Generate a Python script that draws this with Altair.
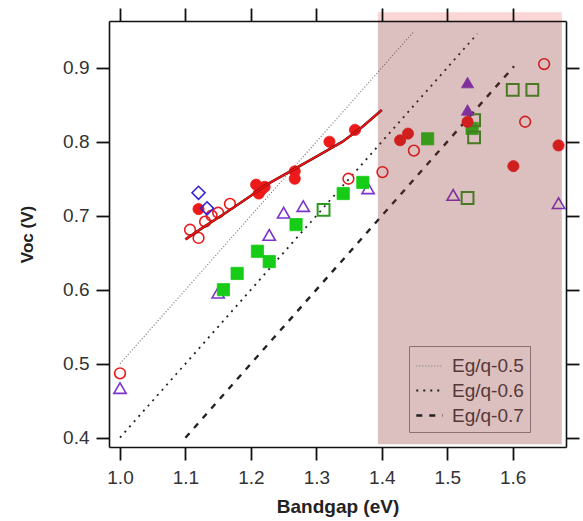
import altair as alt
import pandas as pd

FONT = "Liberation Sans"

# ---------------- data ----------------
red_open_x = [1.000, 1.107, 1.120, 1.130, 1.140, 1.150, 1.168, 1.349, 1.401, 1.449, 1.619, 1.648]
red_open_y = [0.487, 0.681, 0.670, 0.692, 0.700, 0.704, 0.716, 0.750, 0.759, 0.788, 0.827, 0.905]

red_fill_x = [1.120, 1.208, 1.216, 1.221, 1.212, 1.267, 1.267, 1.320, 1.359, 1.428, 1.440, 1.531, 1.601, 1.670]
red_fill_y = [0.709, 0.742, 0.735, 0.739, 0.730, 0.760, 0.750, 0.800, 0.816, 0.802, 0.811, 0.827, 0.767, 0.795]

blue_dia_x = [1.120, 1.133]
blue_dia_y = [0.731, 0.710]

purple_open_x = [1.000, 1.150, 1.228, 1.250, 1.280, 1.379, 1.509, 1.670]
purple_open_y = [0.467, 0.596, 0.674, 0.704, 0.713, 0.737, 0.728, 0.717]

purple_fill_x = [1.531, 1.531]
purple_fill_y = [0.880, 0.843]

green_fill_x = [1.158, 1.179, 1.210, 1.228, 1.269, 1.341, 1.371, 1.470, 1.538]
green_fill_y = [0.600, 0.622, 0.652, 0.638, 0.688, 0.730, 0.745, 0.804, 0.818]

green_open_x = [1.311, 1.600, 1.630, 1.541, 1.541, 1.531]
green_open_y = [0.708, 0.870, 0.870, 0.806, 0.829, 0.724]

fit_x = [1.10, 1.13, 1.16, 1.20, 1.22, 1.26, 1.30, 1.34, 1.37, 1.40]
fit_y = [0.668, 0.686, 0.703, 0.727, 0.740, 0.760, 0.780, 0.800, 0.820, 0.843]

ref_names = ["Eg/q-0.5", "Eg/q-0.6", "Eg/q-0.7"]
ref_x0 = [1.000, 1.000, 1.100]
ref_x1 = [1.449, 1.546, 1.602]
ref_y0 = [0.500, 0.400, 0.400]
ref_y1 = [0.949, 0.946, 0.902]

shade_x = [1.394, 1.675]
shade_y = [0.391, 0.9632]
strip_y = [0.9632, 0.975]

x_ticks = [1.0, 1.1, 1.2, 1.3, 1.4, 1.5, 1.6]
y_ticks = [0.4, 0.5, 0.6, 0.7, 0.8, 0.9]

# ---------------- scales ----------------
xs = alt.Scale(domain=[0.9832, 1.6814], nice=False, zero=False)
ys = alt.Scale(domain=[0.3874, 0.9632], nice=False, zero=False)


def df(xv, yv):
    return pd.DataFrame({"x": xv, "y": yv})


def enc(ch):
    return ch.encode(x=alt.X("x:Q", scale=xs, axis=None),
                     y=alt.Y("y:Q", scale=ys, axis=None))


def scatter(xv, yv, shape, color, filled, size, sw=1.6):
    if filled:
        m = alt.Chart(df(xv, yv)).mark_point(shape=shape, size=size, filled=True,
                                              fill=color, stroke=color, strokeWidth=0.8,
                                              opacity=1)
    else:
        m = alt.Chart(df(xv, yv)).mark_point(shape=shape, size=size, filled=False,
                                              stroke=color, strokeWidth=sw, opacity=1)
    return enc(m)


# reference lines
rows = []
for n, a, b, c, d in zip(ref_names, ref_x0, ref_x1, ref_y0, ref_y1):
    rows.append({"series": n, "x": a, "y": c, "o": 0})
    rows.append({"series": n, "x": b, "y": d, "o": 1})
ref_df = pd.DataFrame(rows)

leg = alt.Legend(title="", orient="none", legendX=300, legendY=325,
                 symbolType="stroke", symbolSize=700,
                 labelFont=FONT, labelFontSize=19, labelColor="#553838",
                 strokeColor="#8f7070", padding=6, rowPadding=0, labelOffset=8)

ref_lines = alt.Chart(ref_df).mark_line().encode(
    x=alt.X("x:Q", scale=xs, axis=None),
    y=alt.Y("y:Q", scale=ys, axis=None),
    order="o:Q",
    strokeDash=alt.StrokeDash("series:N",
                              scale=alt.Scale(domain=ref_names, range=[[1, 2], [2, 5], [6, 7]]),
                              legend=leg),
    color=alt.Color("series:N",
                    scale=alt.Scale(domain=ref_names, range=["#777777", "#222222", "#222222"]),
                    legend=leg),
    strokeWidth=alt.StrokeWidth("series:N",
                                scale=alt.Scale(domain=ref_names, range=[1.2, 2.4, 2.2]),
                                legend=leg),
)

strip = alt.Chart(pd.DataFrame({"x": [shade_x[0]], "x2": [shade_x[1]],
                                "y": [strip_y[0]], "y2": [strip_y[1]]})).mark_rect(
    fill="#fad6d6", clip=False).encode(
    x=alt.X("x:Q", scale=xs, axis=None), x2="x2:Q",
    y=alt.Y("y:Q", scale=ys, axis=None), y2="y2:Q")

shade = alt.Chart(pd.DataFrame({"x": [shade_x[0]], "x2": [shade_x[1]],
                                "y": [shade_y[0]], "y2": [shade_y[1]]})).mark_rect(
    fill="#8c2b2b", opacity=0.3).encode(
    x=alt.X("x:Q", scale=xs, axis=None), x2="x2:Q",
    y=alt.Y("y:Q", scale=ys, axis=None), y2="y2:Q")

fit_dark = enc(alt.Chart(df(fit_x, fit_y)).mark_line(color="#331111", strokeWidth=2.6))
fit_red = enc(alt.Chart(df(fit_x, fit_y)).mark_line(color="#ee1111", strokeWidth=1.9))

RED = "#ee1a1a"
GREEN = "#16cc16"
GREEN_EDGE = "#2e9a22"
PURPLE = "#7a33cc"
BLUE = "#3322dd"

pts_layers = [
    scatter(purple_open_x, purple_open_y, "triangle-up", PURPLE, False, 150),
    scatter(green_fill_x, green_fill_y, "square", GREEN, True, 150),
    scatter(green_open_x, green_open_y, "square", GREEN_EDGE, False, 140, 2.0),
    scatter(purple_fill_x, purple_fill_y, "triangle-up", PURPLE, True, 150),
    scatter(red_open_x, red_open_y, "circle", RED, False, 115),
    scatter(red_fill_x, red_fill_y, "circle", RED, True, 125),
    scatter(blue_dia_x, blue_dia_y, "diamond", BLUE, False, 170),
]

axis_common = dict(values=x_ticks, format=".1f", tickSize=13, tickWidth=1.8,
                   tickColor="#111111", domainColor="#111111", domainWidth=1.6,
                   labelFont=FONT, labelFontSize=19, labelColor="#333333",
                   titleFont=FONT, titleFontSize=19, titleFontWeight="bold",
                   titleColor="#222222", grid=False, zindex=1)

ax_src = df(red_open_x, red_open_y)
axes_bl = alt.Chart(ax_src).mark_point(opacity=0).encode(
    x=alt.X("x:Q", scale=xs, title="Bandgap (eV)",
            axis=alt.Axis(orient="bottom", labelPadding=8, titlePadding=10,
                          **axis_common)),
    y=alt.Y("y:Q", scale=ys, title="Voc (V)",
            axis=alt.Axis(orient="left", labelPadding=7, titlePadding=26,
                          **{**axis_common, "values": y_ticks, "titleFontSize": 17})),
)
axes_tr = alt.Chart(ax_src).mark_point(opacity=0).encode(
    x=alt.X("x:Q", scale=xs, title="",
            axis=alt.Axis(orient="top", labels=False, **axis_common)),
    y=alt.Y("y:Q", scale=ys, title="",
            axis=alt.Axis(orient="right", labels=False,
                          **{**axis_common, "values": y_ticks})),
)

chart = alt.layer(
    strip, ref_lines, *pts_layers, fit_dark, fit_red, shade, axes_bl, axes_tr
).resolve_axis(x="independent", y="independent").properties(
    width=457, height=426,
    padding={"left": 109, "top": 21, "right": 17, "bottom": 74},
    autosize="none",
).configure_view(strokeWidth=0)

chart.save("out.html", embed_options={"renderer": "svg", "actions": False})
